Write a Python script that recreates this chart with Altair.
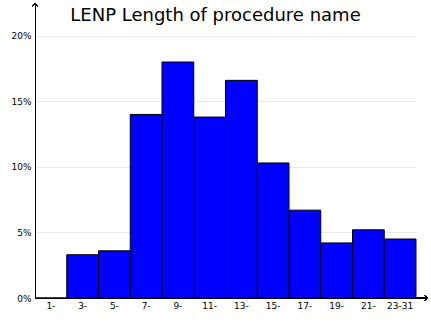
import altair as alt
import pandas as pd

categories = ["1-", "3-", "5-", "7-", "9-", "11-", "13-", "15-", "17-", "19-", "21-", "23-31"]
shares = [0.0, 0.033, 0.036, 0.140, 0.180, 0.138, 0.166, 0.103, 0.067, 0.042, 0.052, 0.045]

df = pd.DataFrame({"cat": categories, "share": shares})

W, H = 381, 295
FONT = "DejaVu Sans"

base = alt.Chart(df)

bars = base.mark_bar(color="#0000ff", stroke="black", strokeWidth=1).encode(
    x=alt.X("cat:N", sort=categories,
            scale=alt.Scale(paddingInner=0, paddingOuter=0),
            axis=alt.Axis(title=None, labelAngle=0, ticks=False, labelFont=FONT,
                          labelFontSize=9, labelColor="black", labelPadding=3,
                          domainColor="black", domainWidth=1, grid=False)),
    y=alt.Y("share:Q", scale=alt.Scale(domain=[0, 0.225], nice=False),
            axis=alt.Axis(title=None, format=".0%", values=[0, 0.05, 0.1, 0.15, 0.2],
                          ticks=False, labelFont=FONT, labelFontSize=9,
                          labelColor="black", labelPadding=4, domainColor="black",
                          domainWidth=1, grid=True, gridColor="#e8e8e8", gridWidth=1)),
)

xline = base.mark_rule(color="black", strokeWidth=1).encode(
    x=alt.value(W), x2=alt.value(W + 12), y=alt.value(H)
)
xarrow = base.mark_point(shape="M-1,-0.7L0,0L-1,0.7", filled=False, stroke="black",
                         strokeWidth=1, size=40).encode(
    x=alt.value(W + 12), y=alt.value(H)
)
yarrow = base.mark_point(shape="M-0.7,1L0,0L0.7,1", filled=False, stroke="black",
                         strokeWidth=1, size=40).encode(
    x=alt.value(0), y=alt.value(0)
)

chart = alt.layer(bars, xline, xarrow, yarrow).properties(
    width=W, height=H,
    title=alt.TitleParams("LENP Length of procedure name", font=FONT, fontSize=18,
                          fontWeight="normal", color="black", dy=28, dx=-10),
    autosize=alt.AutoSizeParams(type="none"),
    padding={"left": 35, "top": 3, "right": 15, "bottom": 24},
).configure_view(stroke=None)

chart.save("out.html", embed_options={"renderer": "svg", "actions": False})
